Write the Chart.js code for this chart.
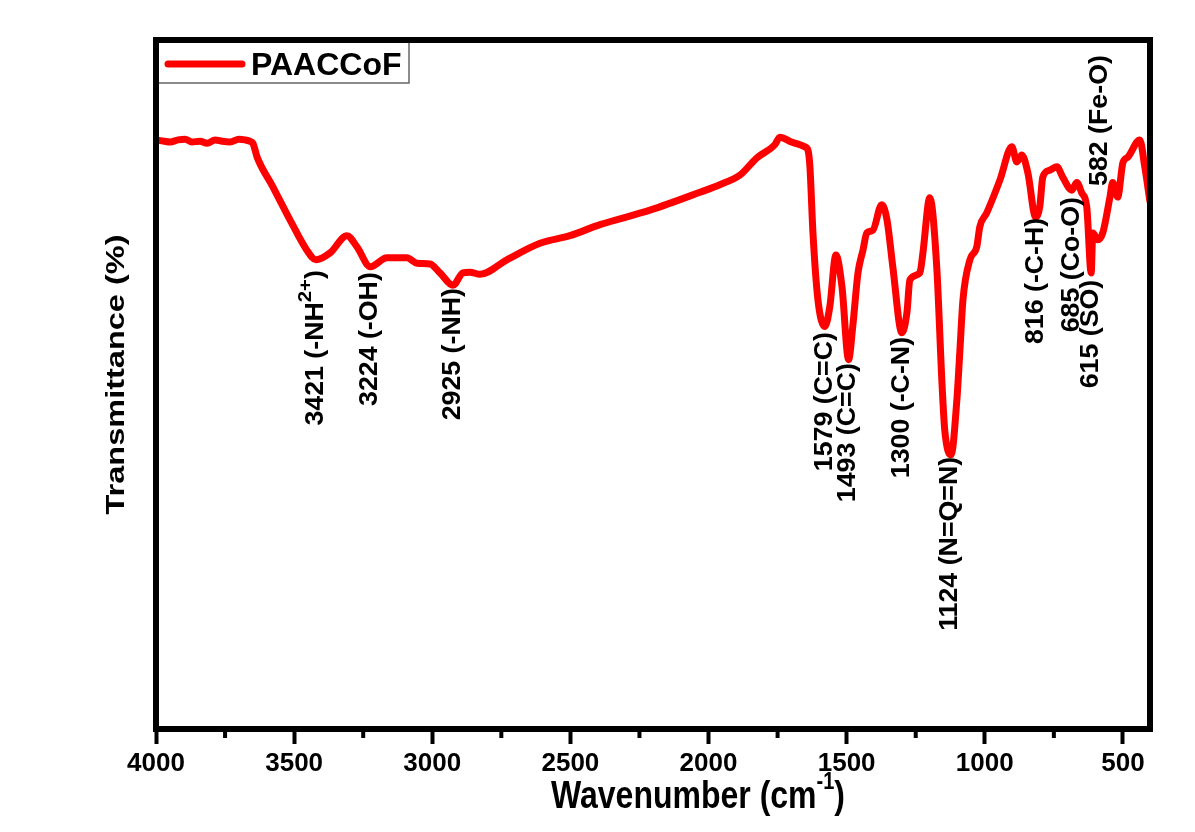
<!DOCTYPE html>
<html><head><meta charset="utf-8">
<script src="https://cdn.jsdelivr.net/npm/chart.js@4.4.1/dist/chart.umd.min.js"></script>
<style>html,body{margin:0;padding:0;background:#fff}#wrap{width:1195px;height:832px}</style>
</head><body><div id="wrap"><canvas id="c" width="1195" height="832"></canvas></div>
<script>
const wavenumber = [4000,3970,3949,3920,3895,3870,3841,3815,3786,3760,3732,3700,3678,3660,3649,3634,3577,3515,3454,3421,3370,3309,3273,3224,3164,3092,3055,3008,2972,2925,2889,2864,2827,2730,2610,2502,2393,2212,2031,1959,1886,1825,1760,1742,1700,1669,1651,1640,1633,1622,1604,1579,1561,1539,1517,1493,1478,1459,1441,1427,1405,1373,1354,1333,1300,1282,1271,1235,1224,1199,1174,1155,1145,1122,1101,1090,1079,1054,1029,1018,993,945,902,884,866,844,816,801,790,765,739,718,685,667,649,631,615,609,591,573,547,537,519,500,482,439,421,402];
const transmittance = [85.5,85.3,85.2,85.5,85.6,85.2,85.3,85.0,85.5,85.3,85.2,85.6,85.5,85.3,85.0,83.0,78.7,73.9,69.5,68.1,69.1,71.6,70.0,67.1,68.4,68.4,67.6,67.5,66.2,64.4,66.2,66.3,66.0,68.1,70.5,71.6,73.2,75.3,77.9,79.0,80.4,82.9,84.8,85.9,85.2,84.8,84.5,84.0,81.6,72.0,62.3,58.4,61.3,68.8,64.2,53.6,58.4,66.2,69.5,72.0,72.4,76.1,73.9,67.1,57.5,60.4,65.2,66.2,69.1,77.1,67.1,50.2,43.4,39.8,47.8,55.0,62.3,68.1,70.0,72.9,74.9,79.7,84.5,82.3,83.3,80.7,74.3,75.8,80.1,81.1,81.6,80.1,78.2,79.3,77.8,75.8,66.2,72.0,71.0,72.0,77.2,79.3,77.2,82.2,83.0,85.5,81.6,76.5];
const xTickValues = [4000,3500,3000,2500,2000,1500,1000,500];
const xMinorTickValues = [3750,3250,2750,2250,1750,1250,750];
const seriesName = 'PAACCoF';
const bandLabels = ['3421 (-NH^{2+})','3224 (-OH)','2925 (-NH)','1579 (C=C)','1493 (C=C)','1300 (-C-N)','1124 (N=Q=N)','816 (-C-H)','685 (Co-O)','615 (SO)','582 (Fe-O)'];
const bandWavenumbers = [3421,3224,2925,1579,1493,1300,1124,816,685,615,582];
const bandLabelTop = [66.6,66.3,64.0,57.6,53.1,56.9,39.5,74.2,77.2,65.2,97.8];
const xTitle = 'Wavenumber (cm^{-1})';
const yTitle = 'Transmittance (%)';

const FONT = "'Liberation Sans', Arial, sans-serif";
function parseRich(str){
  const parts=[]; const re=/\^\{([^}]*)\}/g; let last=0, m;
  while((m=re.exec(str))){ if(m.index>last) parts.push({t:str.slice(last,m.index),sup:false}); parts.push({t:m[1],sup:true}); last=re.lastIndex; }
  if(last<str.length) parts.push({t:str.slice(last),sup:false});
  return parts;
}
function measureParts(ctx,parts,size,supSize){
  let tot=0; parts.forEach(p=>{ctx.font='bold '+(p.sup?supSize:size)+'px '+FONT; p.w=ctx.measureText(p.t).width; tot+=p.w;}); return tot;
}
function drawParts(ctx,parts,x,y,size,supSize,raise){
  parts.forEach(p=>{ctx.font='bold '+(p.sup?supSize:size)+'px '+FONT; ctx.fillText(p.t,x,p.sup?y-raise:y); x+=p.w;});
}

const decor = {
  id:'decor',
  beforeDraw(chart){const c=chart.ctx; c.save(); c.fillStyle='#fff'; c.fillRect(0,0,chart.width,chart.height); c.restore();},
  afterDatasetsDraw(chart){
    const {ctx, chartArea:a, scales:{x,y}} = chart;
    ctx.save();
    // minor ticks
    ctx.strokeStyle='#000'; ctx.lineWidth=4;
    xMinorTickValues.forEach(v=>{const px=x.getPixelForValue(v); ctx.beginPath(); ctx.moveTo(px,a.bottom); ctx.lineTo(px,a.bottom+9); ctx.stroke();});
    // legend
    ctx.fillStyle='#fff'; ctx.fillRect(a.left,a.top,253,43);
    ctx.strokeStyle='#666'; ctx.lineWidth=1.5; ctx.strokeRect(a.left,a.top,253,43);
    ctx.strokeStyle='#ff0000'; ctx.lineWidth=7; ctx.lineCap='round';
    ctx.beginPath(); ctx.moveTo(a.left+12,a.top+24); ctx.lineTo(a.left+86,a.top+24); ctx.stroke();
    ctx.lineCap='butt';
    ctx.fillStyle='#000'; ctx.font='bold 32px '+FONT; ctx.textAlign='left'; ctx.textBaseline='alphabetic';
    ctx.fillText(seriesName,a.left+95,a.top+35);
    // frame
    ctx.strokeStyle='#000'; ctx.lineWidth=6; ctx.strokeRect(a.left,a.top,a.right-a.left,a.bottom-a.top);
    // band labels
    ctx.fillStyle='#000'; ctx.textBaseline='middle'; ctx.textAlign='left';
    bandLabels.forEach((s,i)=>{
      const px=x.getPixelForValue(bandWavenumbers[i]); const py=y.getPixelForValue(bandLabelTop[i]);
      const parts=parseRich(s); const w=measureParts(ctx,parts,25,19);
      ctx.save(); ctx.translate(px,py); ctx.rotate(-Math.PI/2); ctx.scale(1.07,1);
      drawParts(ctx,parts,-w,0,25,19,10);
      ctx.restore();
    });
    // y title
    {
      const parts=parseRich(yTitle); const w=measureParts(ctx,parts,26,18);
      ctx.save(); ctx.translate(117,(a.top+a.bottom)/2-10); ctx.rotate(-Math.PI/2); ctx.scale(1.25,1);
      drawParts(ctx,parts,-w/2,0,26,18,10); ctx.restore();
    }
    // x title
    {
      const parts=parseRich(xTitle); const w=measureParts(ctx,parts,32,20);
      ctx.save(); ctx.translate((a.left+a.right)/2+45,797); ctx.scale(1,1.2);
      drawParts(ctx,parts,-w/2,0,32,20,12); ctx.restore();
    }
    ctx.restore();
  }
};

const points = wavenumber.map((w,i)=>({x:w,y:transmittance[i]}));
new Chart(document.getElementById('c'),{
  type:'line',
  data:{datasets:[{label:seriesName,data:points,borderColor:'#ff0000',borderWidth:7,pointRadius:0,cubicInterpolationMode:'monotone',fill:false}]},
  options:{
    responsive:false, animation:false, devicePixelRatio:1,
    layout:{padding:{top:40,right:45,left:0,bottom:0}},
    plugins:{legend:{display:false},tooltip:{enabled:false}},
    scales:{
      x:{type:'linear',reverse:true,min:402,max:4000,
        afterBuildTicks:(s)=>{s.ticks=xTickValues.map(v=>({value:v}));},
        afterFit:(s)=>{s.height=103;},
        border:{display:false},
        grid:{display:true,drawOnChartArea:false,drawTicks:true,tickLength:15,tickWidth:4,tickColor:'#000',color:'#000'},
        ticks:{color:'#000',font:{family:FONT,size:26,weight:'bold'},padding:4,maxRotation:0,autoSkip:false,callback:(v)=>String(v)}},
      y:{type:'linear',min:0,max:100,
        afterFit:(s)=>{s.width=156;},
        border:{display:false},grid:{display:false},ticks:{display:false}}
    }
  },
  plugins:[decor]
});
</script>
</body></html>
